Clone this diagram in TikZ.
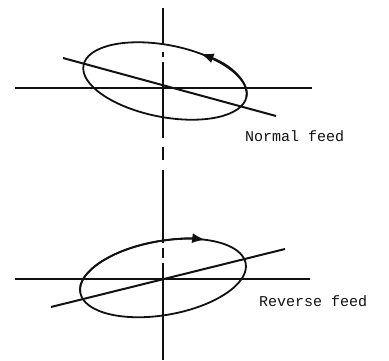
\documentclass[tikz,border=0pt]{standalone}
\usepackage{fontspec}
\setmonofont{Liberation Mono}
\usetikzlibrary{arrows.meta}
\definecolor{ink}{HTML}{111111}

\begin{document}
\begin{tikzpicture}[x=1pt,y=1pt,ink,
    axis/.style={line width=1.5pt},
    orbit/.style={line width=1.8pt},
    feedline/.style={line width=2pt},
    tag/.style={font=\ttfamily\fontsize{15}{15}\selectfont,anchor=west,inner sep=0pt}]
  \useasboundingbox (0,0) rectangle (389,360);

  % Vertical axis, broken in a few places
  \foreach \ya/\yb in {352/315, 308/303, 298/222, 213/200, 190/117, 112/102, 97/0}
    \draw[axis] (163,\ya) -- (163,\yb);

  % Normal feed
  \draw[axis] (15,272) -- (312,272);
  \begin{scope}[shift={(165,279)},rotate=-11]
    \draw[orbit] (0,0) ellipse [x radius=83,y radius=36];
    \draw[orbit,-{Latex[length=13pt,width=10pt]}] (0:83 and 36)
      arc[start angle=0,end angle=69,x radius=83,y radius=36];
  \end{scope}
  \draw[feedline] (63,302) -- (276,244);
  \node[tag] (normal) at (245,224) {Normal feed};

  % Reverse feed
  \draw[axis] (15,81) -- (310,81);
  \begin{scope}[shift={(163,82)},rotate=10]
    \draw[orbit] (0,0) ellipse [x radius=84,y radius=37];
    \draw[orbit,-{Latex[length=13pt,width=10pt]}] (180:84 and 37)
      arc[start angle=180,end angle=55,x radius=84,y radius=37];
  \end{scope}
  \draw[feedline] (51,53) -- (285,111);
  \node[tag] (reverse) at (259,59) {Reverse feed};
\end{tikzpicture}
\end{document}
